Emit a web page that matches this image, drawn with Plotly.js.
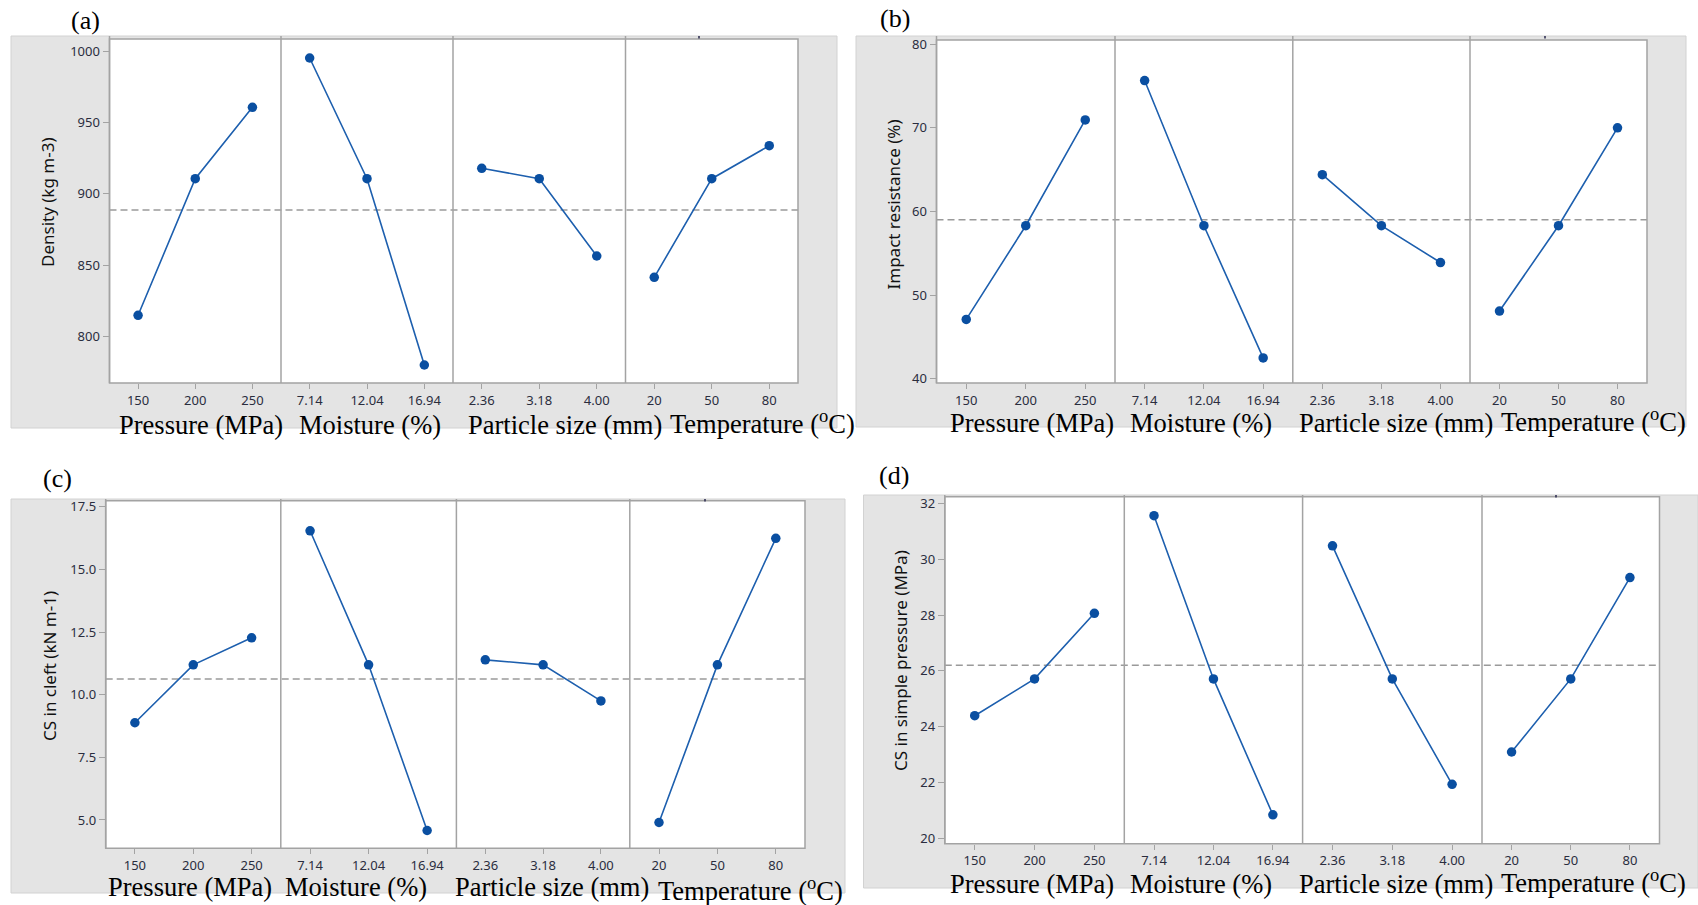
<!DOCTYPE html>
<html>
<head>
<meta charset="utf-8">
<script src="https://cdn.plot.ly/plotly-3.0.1.min.js"></script>
<style>html,body{margin:0;padding:0;background:#fff;}#chart{width:1698px;height:905px;}</style>
</head>
<body>
<div id="chart"></div>
<script>
// ---- data ----
const pressureLevels = ['150', '200', '250'];
const moistureLevels = ['7.14', '12.04', '16.94'];
const particleLevels = ['2.36', '3.18', '4.00'];
const temperatureLevels = ['20', '50', '80'];
const factorLevels = [pressureLevels, moistureLevels, particleLevels, temperatureLevels];
const factorNames = ['Pressure (MPa)', 'Moisture (%)', 'Particle size (mm)', 'Temperature (<sup>o</sup>C)'];

const densityPressure = [815.0, 910.6, 960.6];
const densityMoisture = [995.1, 910.6, 780.2];
const densityParticle = [917.9, 910.6, 856.5];
const densityTemperature = [841.6, 910.6, 933.7];
const densityMean = 888.7;

const impactPressure = [47.1, 58.3, 70.95];
const impactMoisture = [75.65, 58.3, 42.5];
const impactParticle = [64.4, 58.3, 53.9];
const impactTemperature = [48.1, 58.3, 70.0];
const impactMean = 59.0;

const cleftPressure = [8.88, 11.19, 12.27];
const cleftMoisture = [16.54, 11.19, 4.58];
const cleftParticle = [11.39, 11.19, 9.75];
const cleftTemperature = [4.9, 11.19, 16.24];
const cleftMean = 10.63;

const simplePressure = [24.39, 25.71, 28.06];
const simpleMoisture = [31.56, 25.71, 20.84];
const simpleParticle = [30.48, 25.71, 21.93];
const simpleTemperature = [23.09, 25.71, 29.34];
const simpleMean = 26.2;

const panelLabels = ['(a)', '(b)', '(c)', '(d)'];
const yTitles = ['Density (kg m-3)', 'Impact resistance (%)', 'CS in cleft (kN m-1)', 'CS in simple pressure (MPa)'];
const yTickVals = [[800, 850, 900, 950, 1000], [40, 50, 60, 70, 80], [5, 7.5, 10, 12.5, 15, 17.5], [20, 22, 24, 26, 28, 30, 32]];

const panelSeries = [
  [densityPressure, densityMoisture, densityParticle, densityTemperature],
  [impactPressure, impactMoisture, impactParticle, impactTemperature],
  [cleftPressure, cleftMoisture, cleftParticle, cleftTemperature],
  [simplePressure, simpleMoisture, simpleParticle, simpleTemperature]
];
const panelMeans = [densityMean, impactMean, cleftMean, simpleMean];

// ---- layout geometry (pixels) ----
const W = 1698, H = 905;
const geo = [
  {L:109.5, R:798, T:39, B:383, div:[281, 453, 625.5], gL:11, gR:837, gT:36, gB:428, yr:[767.6, 1008.4], fmt:'d',
   tx:[116.5, 297, 466, 668], ty:[425,425,425,421.7], lab:[69, 21], yt:[47, 202], dot:[699, 37]},
  {L:936.5, R:1647, T:40, B:383, div:[1115, 1292.8, 1470], gL:856, gR:1686, gT:36, gB:427, yr:[39.5, 80.5], fmt:'d',
   tx:[947.6, 1127.5, 1297, 1499], ty:[423,423,423,419.7], lab:[878, 18], yt:[893.5, 204], dot:[1545, 37]},
  {L:105.7, R:805, T:500.7, B:848.3, div:[280.8, 456.4, 629.8], gL:11, gR:845, gT:499, gB:893, yr:[3.87, 17.74], fmt:'.1f',
   tx:[105.7, 283, 452.6, 655.8], ty:[887,887,887,888.7], lab:[40.6, 478], yt:[49, 666], dot:[705, 500]},
  {L:944.8, R:1659.5, T:496.7, B:843.8, div:[1124.3, 1302.6, 1482], gL:863.5, gR:1698, gT:495, gB:888, yr:[19.8, 32.24], fmt:'d',
   tx:[947.6, 1127.5, 1297, 1499], ty:[884,884,884,880.7], lab:[877, 475], yt:[900, 661], dot:[1556, 496]}
];
const px = x => x / W;
const py = y => 1 - y / H;

const frameColor = '#a3a3a3';
const lineColor = '#1d5fae';
const markerColor = '#0a4fa1';
const tickFont = {family: 'Noto Sans, sans-serif', size: 13, color: '#2a2d3e'};

const layout = {
  width: W, height: H,
  margin: {l: 0, r: 0, t: 0, b: 0},
  paper_bgcolor: '#ffffff',
  plot_bgcolor: 'rgba(0,0,0,0)',
  showlegend: false,
  shapes: [],
  annotations: []
};
const traces = [];

geo.forEach((g, p) => {
  const yName = p === 0 ? 'y' : 'y' + (p + 1);
  const yKey = p === 0 ? 'yaxis' : 'yaxis' + (p + 1);
  const edges = [g.L].concat(g.div).concat([g.R]);
  const firstX = p * 4 + 1;
  layout[yKey] = {
    domain: [py(g.B), py(g.T)],
    range: g.yr,
    anchor: firstX === 1 ? 'x' : 'x' + firstX,
    tickmode: 'array',
    tickvals: yTickVals[p],
    tickformat: g.fmt,
    ticks: 'outside', ticklen: 6, tickwidth: 1, tickcolor: frameColor,
    showgrid: false, zeroline: false, showline: false,
    tickfont: tickFont,
    fixedrange: true
  };
  layout.shapes.push({type:'rect', xref:'paper', yref:'paper', layer:'below',
    x0:px(g.gL), x1:px(g.gR), y0:py(g.gB), y1:py(g.gT),
    fillcolor:'#e4e4e4', line:{color:'#d2d2d2', width:1}});
  layout.shapes.push({type:'rect', xref:'paper', yref:'paper', layer:'below',
    x0:px(g.L), x1:px(g.R), y0:py(g.B), y1:py(g.T),
    fillcolor:'#ffffff', line:{width:0}});
  layout.shapes.push({type:'line', xref:'paper', yref:yName, layer:'below',
    x0:px(g.L), x1:px(g.R), y0:panelMeans[p], y1:panelMeans[p],
    line:{color:'#9a9a9a', width:1.5, dash:'7px,4px'}});
  layout.shapes.push({type:'rect', xref:'paper', yref:'paper', layer:'above',
    x0:px(g.L), x1:px(g.R), y0:py(g.B), y1:py(g.T),
    line:{color:frameColor, width:1.5}});
  [g.L].concat(g.div).forEach(xd => {
    layout.shapes.push({type:'line', xref:'paper', yref:'paper', layer:'above',
      x0:px(xd), x1:px(xd), y0:py(g.B), y1:py(g.gT),
      line:{color:frameColor, width:1.5}});
  });
  layout.shapes.push({type:'rect', xref:'paper', yref:'paper', layer:'above',
    x0:px(g.dot[0] - 0.8), x1:px(g.dot[0] + 0.8), y0:py(g.dot[1] + 1.5), y1:py(g.dot[1] - 1),
    fillcolor:'#333355', line:{width:0}});

  for (let f = 0; f < 4; f++) {
    const xi = firstX + f;
    const xName = xi === 1 ? 'x' : 'x' + xi;
    const xKey = xi === 1 ? 'xaxis' : 'xaxis' + xi;
    layout[xKey] = {
      domain: [px(edges[f]), px(edges[f + 1])],
      anchor: yName,
      type: 'category',
      categoryorder: 'array',
      categoryarray: factorLevels[f],
      range: [-0.5, 2.5],
      ticks: 'outside', ticklen: 5, tickwidth: 1, tickcolor: frameColor,
      showgrid: false, zeroline: false, showline: false,
      tickfont: tickFont,
      fixedrange: true
    };
    traces.push({
      type: 'scatter', mode: 'lines+markers',
      x: factorLevels[f], y: panelSeries[p][f],
      xaxis: xName, yaxis: yName,
      line: {color: lineColor, width: 1.6},
      marker: {color: markerColor, size: 9.5},
      hoverinfo: 'x+y'
    });
    layout.annotations.push({
      xref:'paper', yref:'paper', x:px(g.tx[f]), y:py(g.ty[f]),
      xanchor:'left', yanchor:'middle', showarrow:false,
      text: factorNames[f],
      font:{family:'Liberation Serif, Times New Roman, serif', size:26.5, color:'#000'}
    });
  }
  layout.annotations.push({
    xref:'paper', yref:'paper', x:px(g.lab[0]), y:py(g.lab[1]),
    xanchor:'left', yanchor:'middle', showarrow:false,
    text: panelLabels[p],
    font:{family:'Liberation Serif, Times New Roman, serif', size:26, color:'#000'}
  });
  layout.annotations.push({
    xref:'paper', yref:'paper', x:px(g.yt[0]), y:py(g.yt[1]),
    xanchor:'center', yanchor:'middle', showarrow:false, textangle:-90,
    text: yTitles[p],
    font:{family:'Noto Sans, sans-serif', size:17, color:'#111'}
  });
});

Plotly.newPlot('chart', traces, layout, {displayModeBar:false, staticPlot:true});
</script>
</body>
</html>
